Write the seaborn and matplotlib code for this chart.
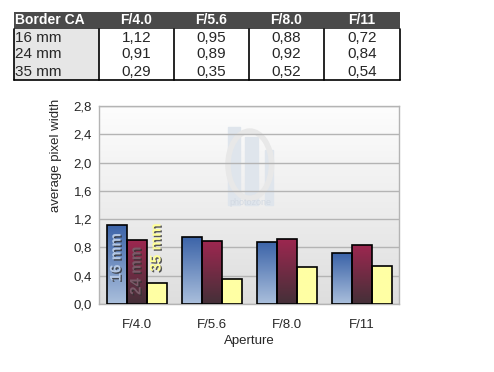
import numpy as np
import pandas as pd
import matplotlib
matplotlib.use("Agg")
import matplotlib.pyplot as plt
import matplotlib.patheffects as pe
from matplotlib.colors import LinearSegmentedColormap
from matplotlib.patches import Ellipse
import seaborn as sns

# data
apertures = ["F/4.0", "F/5.6", "F/8.0", "F/11"]
focal = ["16 mm", "24 mm", "35 mm"]
ca_16 = [1.12, 0.95, 0.88, 0.72]
ca_24 = [0.91, 0.89, 0.92, 0.84]
ca_35 = [0.29, 0.35, 0.52, 0.54]
yticks = [0.0, 0.4, 0.8, 1.2, 1.6, 2.0, 2.4, 2.8]

df = pd.DataFrame({
    "Aperture": apertures * 3,
    "Focal": [f for f in focal for _ in apertures],
    "CA": ca_16 + ca_24 + ca_35,
})

sns.set_style("white")
plt.rcParams["font.family"] = ["Liberation Sans", "DejaVu Sans"]

W, H = 494, 372
fig = plt.figure(figsize=(W / 100, H / 100), dpi=100)

# ---- table at top ----
tax = fig.add_axes([14 / W, 1 - 80 / H, 386 / W, 68 / H])
tax.axis("off")
tax.set_xlim(0, 1)
tax.set_ylim(0, 1)
fmt = lambda v: f"{v:.2f}".replace(".", ",")
cell_text = [["Border CA"] + apertures]
for name, vals in zip(focal, [ca_16, ca_24, ca_35]):
    cell_text.append([name] + [fmt(v) for v in vals])
col_w = np.array([85, 75, 75, 75, 76]) / 386
tbl = tax.table(cellText=cell_text, colWidths=col_w, bbox=[0, 0, 1, 1],
                cellLoc="center")
tbl.auto_set_font_size(False)
for (r, c), cell in tbl.get_celld().items():
    txt = cell.get_text()
    cell.set_linewidth(0)
    if r == 0:
        cell.set_facecolor("#4a4a4a")
        txt.set_color("white")
        txt.set_fontweight("bold")
        txt.set_fontsize(10)
    else:
        txt.set_fontsize(11)
        cell.set_facecolor("#e6e6e6" if c == 0 else "white")
    if c == 0:
        txt.set_ha("left")
        cell.PAD = 0.015

# borders of the value rows
xb = np.concatenate([[0], np.cumsum(col_w)])
for xv in xb:
    tax.plot([xv, xv], [0, 0.75], color="black", lw=1.2, clip_on=False)
tax.plot([0, 1], [0, 0], color="black", lw=1.2, clip_on=False)

# ---- bar chart ----
ax = fig.add_axes([99 / W, 1 - 304 / H, 300 / W, 198 / H])
bg = np.linspace(0, 1, 256).reshape(-1, 1)
bg_cmap = LinearSegmentedColormap.from_list("bg", ["#fdfdfd", "#dedede"])
ax.imshow(bg, cmap=bg_cmap, extent=(-0.5, 3.5, 0, 2.8), aspect="auto", zorder=0)

# faint watermark
wm = "#dfe5ec"
ax.add_patch(plt.Rectangle((1.22, 1.40), 0.16, 1.10, color=wm, zorder=0.4))
ax.add_patch(plt.Rectangle((1.45, 1.40), 0.17, 0.96, color=wm, zorder=0.4))
ax.add_patch(plt.Rectangle((1.71, 1.40), 0.11, 0.78, color=wm, zorder=0.4))
ax.add_patch(Ellipse((1.51, 1.97), 0.58, 0.95, fill=False, ec="#e8e8e8",
                     lw=4, zorder=0.5))
ax.text(1.52, 1.43, "photozone", ha="center", va="center", fontsize=6.5,
        color="#d2d9e2", zorder=0.5)

sns.barplot(data=df, x="Aperture", y="CA", hue="Focal", order=apertures,
            hue_order=focal, ax=ax, legend=False, saturation=1,
            edgecolor="black", linewidth=1.2, zorder=3)

grads = [("#3b63a8", "#aabfdc"), ("#9e2750", "#443038"), ("#ffffa4", "#ffffa4")]
for cont, (top, bot) in zip(ax.containers, grads):
    cmap = LinearSegmentedColormap.from_list("g", [top, bot])
    for bar in cont:
        x, w, h = bar.get_x(), bar.get_width(), bar.get_height()
        bar.set_facecolor("none")
        im = ax.imshow(np.linspace(0, 1, 128).reshape(-1, 1), cmap=cmap,
                       extent=(x, x + w, 0, h), aspect="auto", zorder=2)
        im.set_clip_path(bar)

# in-bar series labels
shadow = [pe.withSimplePatchShadow(offset=(1, -1), shadow_rgbFace="#333333", alpha=0.8)]
b16, b24, b35 = [c[0] for c in ax.containers]
for bar, name, yc, col in [(b16, focal[0], 0.66, "#b4c8e4"),
                           (b24, focal[1], 0.47, "#7a5a68"),
                           (b35, focal[2], 0.80, "#ffff99")]:
    ax.text(bar.get_x() + bar.get_width() / 2, yc, name, rotation=90,
            ha="center", va="center", fontsize=11, fontweight="bold",
            color=col, zorder=5, path_effects=shadow)

ax.set_xlim(-0.5, 3.5)
ax.set_ylim(0, 2.8)
ax.set_yticks(yticks)
ax.set_yticklabels([f"{t:.1f}".replace(".", ",") for t in yticks], fontsize=9.5)
ax.tick_params(axis="y", length=3, color="#b0b0b0", pad=2)
ax.tick_params(axis="x", length=0, labelsize=9.5, pad=11)
ax.yaxis.grid(True, color="#b4b4b4", linewidth=1, zorder=1)
ax.set_axisbelow(True)
for s in ax.spines.values():
    s.set_color("#b4b4b4")
    s.set_linewidth(1)
ax.set_xlabel("Aperture", fontsize=9.5, labelpad=3)
ax.set_ylabel("average pixel width", fontsize=9.5)
ax.yaxis.set_label_coords(-0.125, 0.75)

fig.savefig("out.png", dpi=100)
